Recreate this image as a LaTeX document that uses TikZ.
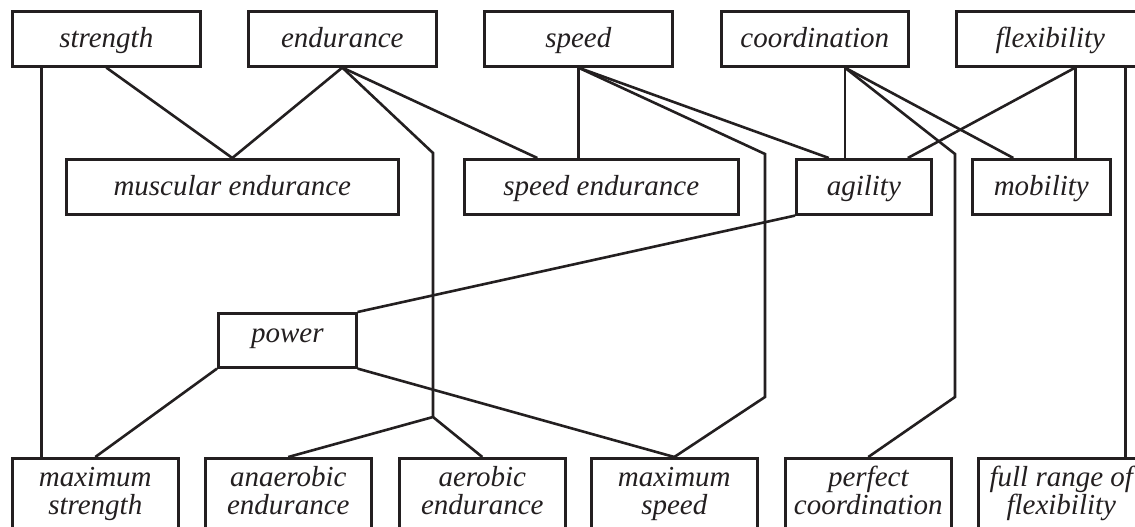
\documentclass[tikz,border=0pt]{standalone}
\usepackage{fontspec}
\setmainfont{Liberation Serif}
\definecolor{ink}{HTML}{231F20}
\begin{document}
\begin{tikzpicture}[x=1pt,y=-1pt,line width=2.6pt,draw=ink,
  box/.style={draw=ink,rectangle,inner xsep=2pt,inner ysep=0pt,text=ink,
    font=\fontsize{29}{28}\selectfont\itshape,align=center,anchor=north west},
  topbox/.style={box,minimum width=188pt,minimum height=55pt,text height=22.5pt,text depth=5.5pt},
  botbox/.style={box,minimum width=166pt,inner ysep=8pt,text height=48pt,text depth=30pt}]
\clip (0,0) rectangle (1135,527);
\fill[white] (0,0) rectangle (1135,527);
% top row
\node[topbox] (strength) at (11,10) {strength};
\node[topbox] (endurance) at (247,10) {endurance};
\node[topbox] (speed) at (483,10) {speed};
\node[topbox,minimum width=187pt] (coordination) at (720,10) {coordination};
\node[topbox] (flexibility) at (955,10) {flexibility};
% middle row
\node[topbox,minimum width=332pt] (muscular) at (65,158) {muscular endurance};
\node[topbox,minimum width=274pt] (speedend) at (463,158) {speed endurance};
\node[topbox,minimum width=135pt] (agility) at (795,158) {agility};
\node[topbox,minimum width=138pt] (mobility) at (971,158) {mobility};
% power
\node[box,minimum width=138pt,minimum height=54pt,text height=16pt,text depth=12pt] (power) at (217,312) {power};
% bottom row
\node[botbox] (maxstr) at (11,457) {maximum\\strength};
\node[botbox] (anaer) at (204,457) {anaerobic\\endurance};
\node[botbox] (aer) at (398,457) {aerobic\\endurance};
\node[botbox] (maxspeed) at (590,457) {maximum\\speed};
\node[botbox] (perfect) at (784,457) {perfect\\coordination};
\node[botbox] (fullrange) at (977,457) {full range of\\flexibility};
% bend points
\coordinate (e1) at (433,153);
\coordinate (e2) at (433,417);
\coordinate (s1) at (765,154);
\coordinate (s2) at (765,397);
\coordinate (c1) at (955,154);
\coordinate (c2) at (955,397);
\coordinate (c0) at ([xshift=30pt]coordination.south);
\coordinate (f0) at ([xshift=25pt]flexibility.south);
% strength
\draw ([xshift=-65pt]strength.south) -- ([xshift=-65pt]strength.south |- maxstr.north);
\draw (strength.south) -- (muscular.north);
% endurance
\draw (endurance.south) -- (muscular.north);
\draw (endurance.south) -- (e1) -- (e2);
\draw (anaer.north) -- (e2) -- (aer.north);
\draw (endurance.south) -- ([xshift=-64pt]speedend.north);
% speed
\draw (speed.south) -- (speed.south |- speedend.north);
\draw (speed.south) -- (s1) -- (s2) -- (maxspeed.north);
\draw (speed.south) -- ([xshift=-35pt]agility.north);
% coordination
\draw (c0) -- (c0 |- agility.north);
\draw (c0) -- (c1) -- (c2) -- (perfect.north);
\draw (c0) -- ([xshift=-28pt]mobility.north);
% flexibility
\draw (f0) -- ([xshift=44pt]agility.north);
\draw (f0) -- (f0 |- mobility.north);
\draw ([xshift=75pt]flexibility.south) -- ([xshift=75pt]flexibility.south |- fullrange.north);
% power
\draw (power.north east) -- (agility.south west);
\draw (power.south west) -- (maxstr.north);
\draw (power.south east) -- (maxspeed.north);
\end{tikzpicture}
\end{document}
